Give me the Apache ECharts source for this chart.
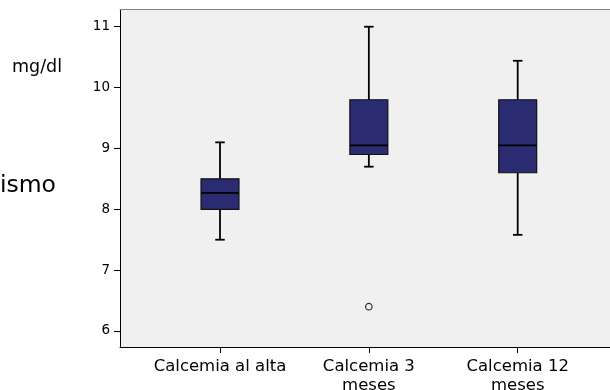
<!DOCTYPE html>
<html>
<head>
<meta charset="utf-8">
<script src="https://cdn.jsdelivr.net/npm/echarts@6/dist/echarts.min.js"></script>
<style>html,body{margin:0;padding:0;background:#fff}#c{width:610px;height:390px}</style>
</head>
<body>
<div id="c"></div>
<script>
var categories = ['Calcemia al alta', 'Calcemia 3\nmeses', 'Calcemia 12\nmeses'];
var whiskerLow = [7.5, 8.7, 7.58];
var q1 = [8.0, 8.9, 8.6];
var median = [8.27, 9.05, 9.05];
var q3 = [8.5, 9.8, 9.8];
var whiskerHigh = [9.1, 11.0, 10.44];
var outliers = [[1, 6.4]];
var yTicks = [6, 7, 8, 9, 10, 11];

var boxData = categories.map(function (c, i) {
  return [i, whiskerLow[i], q1[i], median[i], q3[i], whiskerHigh[i]];
});

var chart = echarts.init(document.getElementById('c'));
var font = 'DejaVu Sans';
var xMin = -0.6718, xMax = 2.6604;
chart.setOption({
  animation: false,
  backgroundColor: '#ffffff',
  grid: {
    left: 120, top: 9.5, width: 496, bottom: 43,
    outerBoundsMode: 'none', containLabel: false,
    show: true, backgroundColor: '#f0f0f0', borderWidth: 0
  },
  xAxis: [{
    type: 'value', min: xMin, max: xMax,
    splitLine: { show: false },
    axisLine: { show: true, onZero: false, lineStyle: { color: '#000', width: 1 } },
    axisTick: { show: true, customValues: [0, 1, 2], length: 6, lineStyle: { color: '#000' } },
    axisLabel: {
      customValues: [0, 1, 2], margin: 10,
      fontFamily: font, fontSize: 16.5, color: '#000', lineHeight: 19,
      formatter: function (v) { return categories[Math.round(v)]; }
    }
  }, {
    type: 'value', position: 'top', min: xMin, max: xMax,
    splitLine: { show: false },
    axisLine: { show: true, onZero: false, lineStyle: { color: '#808080', width: 1 } },
    axisTick: { show: false },
    axisLabel: { show: false }
  }],
  yAxis: {
    type: 'value', min: 5.737, max: 11.283,
    splitLine: { show: false },
    axisLine: { show: true, onZero: false, lineStyle: { color: '#000', width: 1 } },
    axisTick: { show: true, customValues: yTicks, length: 6, lineStyle: { color: '#000' } },
    axisLabel: {
      customValues: yTicks, margin: 10,
      fontFamily: font, fontSize: 13.5, color: '#000'
    }
  },
  graphic: [
    { type: 'text', left: 12, top: 58, style: { text: 'mg/dl', fontFamily: font, fontSize: 17.5, fill: '#000' } },
    { type: 'text', right: 554, top: 174, style: { text: 'ismo', fontFamily: font, fontSize: 23.5, fill: '#000' } }
  ],
  series: [
    {
      type: 'custom',
      data: boxData,
      encode: { x: 0, y: [1, 2, 3, 4, 5] },
      renderItem: function (params, api) {
        var x = api.value(0);
        var band = api.size([1, 0])[0];
        var bw = band * 0.255;
        var cw = bw / 4;
        var pLo = api.coord([x, api.value(1)]);
        var pQ1 = api.coord([x, api.value(2)]);
        var pMed = api.coord([x, api.value(3)]);
        var pQ3 = api.coord([x, api.value(4)]);
        var pHi = api.coord([x, api.value(5)]);
        var cx = pMed[0];
        var ls = { stroke: '#000', lineWidth: 1.8 };
        return {
          type: 'group',
          children: [
            { type: 'line', shape: { x1: cx, y1: pQ3[1], x2: cx, y2: pHi[1] }, style: ls },
            { type: 'line', shape: { x1: cx, y1: pQ1[1], x2: cx, y2: pLo[1] }, style: ls },
            { type: 'line', shape: { x1: cx - cw / 2, y1: pHi[1], x2: cx + cw / 2, y2: pHi[1] }, style: ls },
            { type: 'line', shape: { x1: cx - cw / 2, y1: pLo[1], x2: cx + cw / 2, y2: pLo[1] }, style: ls },
            { type: 'rect', shape: { x: cx - bw / 2, y: pQ3[1], width: bw, height: pQ1[1] - pQ3[1] },
              style: { fill: '#2b2b72', stroke: '#111', lineWidth: 1.2 } },
            { type: 'line', shape: { x1: cx - bw / 2, y1: pMed[1], x2: cx + bw / 2, y2: pMed[1] }, style: ls }
          ]
        };
      }
    },
    {
      type: 'scatter',
      data: outliers,
      symbol: 'circle',
      symbolSize: 6.5,
      itemStyle: { color: '#f0f0f0', borderColor: '#000', borderWidth: 1.2 }
    }
  ]
});
</script>
</body>
</html>
